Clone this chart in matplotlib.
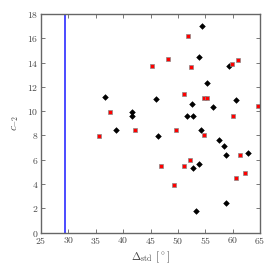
import matplotlib
matplotlib.use("Agg")
import matplotlib.pyplot as plt
from matplotlib.ticker import FuncFormatter

plt.rcParams["mathtext.fontset"] = "cm"
plt.rcParams["font.family"] = "serif"
plt.rcParams["font.serif"] = ["DejaVu Serif"]

# black diamonds
black_x = [36.75, 41.6, 41.6, 38.7, 54.35, 53.8, 59.3, 55.4, 45.95, 60.6, 52.5, 56.4,
           51.67, 52.7, 54.2, 46.4, 57.5, 58.5, 58.8, 62.75, 52.8, 53.8, 53.25, 58.8]
black_y = [11.14, 9.9, 9.6, 8.45, 17.04, 14.43, 13.75, 12.35, 11.03, 10.92, 10.62, 10.32,
           9.6, 9.6, 8.45, 7.93, 7.65, 7.14, 6.42, 6.53, 5.33, 5.63, 1.81, 2.42]

# red squares
red_x = [35.6, 37.66, 42.2, 51.9, 48.2, 45.2, 52.4, 59.9, 61.0, 51.1, 54.7, 55.3,
         64.6, 60.1, 49.6, 54.7, 61.35, 46.97, 51.2, 52.2, 60.6, 62.3, 49.2]
red_y = [7.96, 9.93, 8.43, 16.16, 14.32, 13.75, 13.64, 13.86, 14.24, 11.39, 11.11, 11.11,
         10.4, 9.6, 8.43, 8.02, 6.42, 5.51, 5.51, 6.01, 4.5, 4.91, 3.9]

threshold = 29.3

fig = plt.figure(figsize=(2.74, 2.74), dpi=100)
ax = fig.add_axes([0.1496, 0.1507, 0.7994, 0.7983])

ax.axvline(threshold, color="#1a1aff", lw=1.1)
ax.plot(black_x, black_y, "D", color="black", ms=2.9, mec="black", mew=0.4, ls="none")
ax.plot(red_x, red_y, "s", color="red", ms=3.0, mec="#888888", mew=0.5, ls="none")

ax.set_xlim(25, 65)
ax.set_ylim(0, 18)
ax.set_xticks(range(25, 66, 5))
ax.set_yticks(range(0, 19, 2))
fmt = FuncFormatter(lambda v, p: f"${int(v)}$")
ax.xaxis.set_major_formatter(fmt)
ax.yaxis.set_major_formatter(fmt)
ax.tick_params(direction="in", top=True, right=True, length=3, width=0.7,
               color="#777777", labelsize=7, labelcolor="#444444", pad=2)
for s in ax.spines.values():
    s.set_color("#666666")
    s.set_linewidth(1.0)

ax.set_xlabel(r"$\Delta_{\rm std}\ [^\circ]$", fontsize=8, color="#444444", labelpad=2)
ax.set_ylabel(r"$c_{-2}$", fontsize=8, color="#444444", labelpad=4)

fig.savefig("out.png", dpi=100)
